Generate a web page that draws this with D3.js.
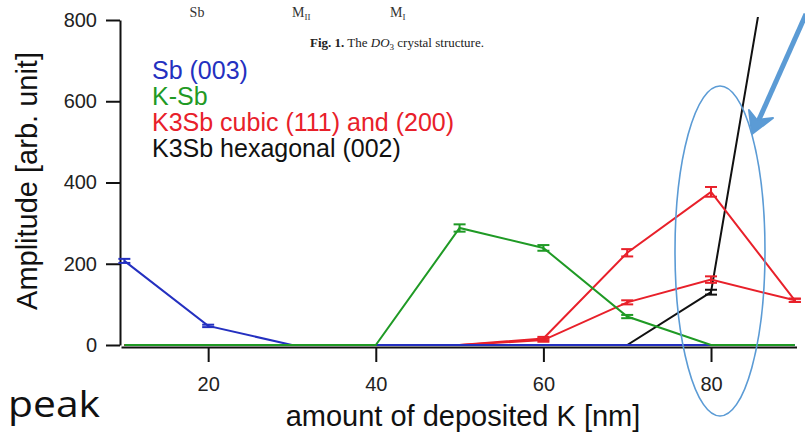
<!DOCTYPE html>
<html>
<head>
<meta charset="utf-8">
<script src="https://cdn.jsdelivr.net/npm/d3@7"></script>
<style>
  body { margin: 0; background: #fff; }
  svg { display: block; }
  .tick text { font-family: "Liberation Sans", Arial, sans-serif; font-size: 20px; fill: #222; }
</style>
</head>
<body>
<svg id="chart" width="805" height="433"></svg>
<script>
//-------------------------------------------------
// Data
//-------------------------------------------------
var xValues = [10, 20, 30, 40, 50, 60, 70, 80, 90];
var sbValues = [207, 47, 0, 0, 0, 0, 0, 0, 0];
var sbErrors = [5, 3, 0, 0, 0, 0, 0, 0, 0];
var kSbValues = [0, 0, 0, 0, 288, 239, 70, 0, 0];
var kSbErrors = [0, 0, 0, 0, 9, 7, 4, 0, 0];
var cubicAValues = [0, 0, 0, 0, 0, 16, 227, 377, 110];
var cubicAErrors = [0, 0, 0, 0, 0, 4, 9, 12, 4];
var cubicBValues = [0, 0, 0, 0, 0, 12, 105, 161, 110];
var cubicBErrors = [0, 0, 0, 0, 0, 4, 5, 8, 4];
var hexValues = [0, 0, 0, 0, 0, 0, 0, 130, 1340];
var hexErrors = [0, 0, 0, 0, 0, 0, 0, 6, 0];
var yTicks = [0, 200, 400, 600, 800];
var xTicks = [20, 40, 60, 80];
var legendLabels = ["Sb (003)", "K-Sb", "K3Sb cubic (111) and (200)", "K3Sb hexagonal (002)"];
var legendColors = ["#2430c0", "#1f9a25", "#e8202a", "#111111"];
//-------------------------------------------------

var font = '"Liberation Sans", Arial, sans-serif';
var svg = d3.select("#chart");

var x = d3.scaleLinear().domain([9.6, 90.2]).range([121, 796.5]);
var y = d3.scaleLinear().domain([0, 800]).range([345, 20]);

// clip so the steep black line stops at the top of the axis
svg.append("defs").append("clipPath").attr("id", "plotclip")
  .append("rect").attr("x", 100).attr("y", 17).attr("width", 705).attr("height", 360);

// x axis
var xAxis = svg.append("g")
  .attr("transform", "translate(0,347)")
  .call(d3.axisBottom(x).tickValues(xTicks).tickSize(15).tickSizeOuter(0).tickPadding(15));
xAxis.selectAll("line, path").attr("stroke", "#111").attr("stroke-width", 2);

// y axis
var yAxis = svg.append("g")
  .attr("transform", "translate(120,0)")
  .call(d3.axisLeft(y).tickValues(yTicks).tickSize(14).tickSizeOuter(0).tickPadding(9));
yAxis.selectAll("line, path").attr("stroke", "#111").attr("stroke-width", 2);

// axis titles
svg.append("text")
  .attr("x", 463).attr("y", 426)
  .attr("text-anchor", "middle")
  .style("font-family", font).style("font-size", "29px").style("fill", "#111")
  .text("amount of deposited K [nm]");

svg.append("text")
  .attr("transform", "translate(37,181) rotate(-90)")
  .attr("text-anchor", "middle")
  .style("font-family", font).style("font-size", "29px").style("fill", "#111")
  .text("Amplitude [arb. unit]");

// series
var series = [
  {values: hexValues, errors: hexErrors, color: legendColors[3]},
  {values: cubicAValues, errors: cubicAErrors, color: legendColors[2]},
  {values: cubicBValues, errors: cubicBErrors, color: legendColors[2]},
  {values: sbValues, errors: sbErrors, color: legendColors[0]},
  {values: kSbValues, errors: kSbErrors, color: legendColors[1]}
];

var line = d3.line()
  .x(function(d) { return x(d[0]); })
  .y(function(d) { return y(d[1]); });

var plot = svg.append("g").attr("clip-path", "url(#plotclip)");

series.forEach(function(s) {
  var pts = xValues.map(function(v, i) { return [v, s.values[i], s.errors[i]]; });
  plot.append("path")
    .datum(pts)
    .attr("d", line)
    .attr("fill", "none")
    .attr("stroke", s.color)
    .attr("stroke-width", 2);

  var bars = plot.selectAll(null)
    .data(pts.filter(function(d) { return d[2] > 0 && d[1] <= 800; }))
    .enter().append("g")
    .attr("stroke", s.color).attr("stroke-width", 2);
  bars.append("line")
    .attr("x1", function(d) { return x(d[0]); }).attr("x2", function(d) { return x(d[0]); })
    .attr("y1", function(d) { return y(d[1] - d[2]); }).attr("y2", function(d) { return y(d[1] + d[2]); });
  bars.append("line")
    .attr("x1", function(d) { return x(d[0]) - 6; }).attr("x2", function(d) { return x(d[0]) + 6; })
    .attr("y1", function(d) { return y(d[1] + d[2]); }).attr("y2", function(d) { return y(d[1] + d[2]); });
  bars.append("line")
    .attr("x1", function(d) { return x(d[0]) - 6; }).attr("x2", function(d) { return x(d[0]) + 6; })
    .attr("y1", function(d) { return y(d[1] - d[2]); }).attr("y2", function(d) { return y(d[1] - d[2]); });
});

// legend (coloured text only)
svg.append("g").selectAll("text")
  .data(legendLabels)
  .enter().append("text")
  .attr("x", 152)
  .attr("y", function(d, i) { return 79 + i * 26; })
  .style("font-family", font).style("font-size", "25px")
  .style("fill", function(d, i) { return legendColors[i]; })
  .text(function(d) { return d; });

// pasted figure fragment at the top
var serif = '"Liberation Serif", "DejaVu Serif", serif';
var inset = svg.append("g").style("font-family", serif).style("font-size", "14px").style("fill", "#333");
inset.append("text").attr("x", 197).attr("y", 17).attr("text-anchor", "middle").text("Sb");
var m2 = inset.append("text").attr("x", 292).attr("y", 17);
m2.append("tspan").text("M");
m2.append("tspan").attr("dy", 3).style("font-size", "9px").text("II");
var m1 = inset.append("text").attr("x", 390).attr("y", 17);
m1.append("tspan").text("M");
m1.append("tspan").attr("dy", 3).style("font-size", "9px").text("I");
var cap = inset.append("text").attr("x", 310).attr("y", 47).style("font-size", "13px").style("fill", "#222");
cap.append("tspan").style("font-weight", "bold").text("Fig. 1.");
cap.append("tspan").text(" The ");
cap.append("tspan").style("font-style", "italic").text("DO");
cap.append("tspan").attr("dy", 3).style("font-size", "9px").text("3");
cap.append("tspan").attr("dy", -3).text(" crystal structure.");

// hand-drawn highlight: ellipse and arrow
svg.append("ellipse")
  .attr("cx", 720).attr("cy", 251).attr("rx", 45).attr("ry", 165)
  .attr("fill", "none").attr("stroke", "#5b9bd5").attr("stroke-width", 1.6);

svg.append("line")
  .attr("x1", 806).attr("y1", 14).attr("x2", 757).attr("y2", 124)
  .attr("stroke", "#5b9bd5").attr("stroke-width", 5);
svg.append("path")
  .attr("d", "M752,134 L749,110 L757,120 L773,118 Z")
  .attr("fill", "#5b9bd5").attr("stroke", "#5b9bd5").attr("stroke-width", 2).attr("stroke-linejoin", "round");

// slide text
svg.append("text")
  .attr("x", 8).attr("y", 417)
  .attr("textLength", 92).attr("lengthAdjust", "spacingAndGlyphs")
  .style("font-family", '"Open Sans", "Noto Sans", sans-serif').style("font-size", "37px").style("fill", "#111")
  .text("peak");
</script>
</body>
</html>
